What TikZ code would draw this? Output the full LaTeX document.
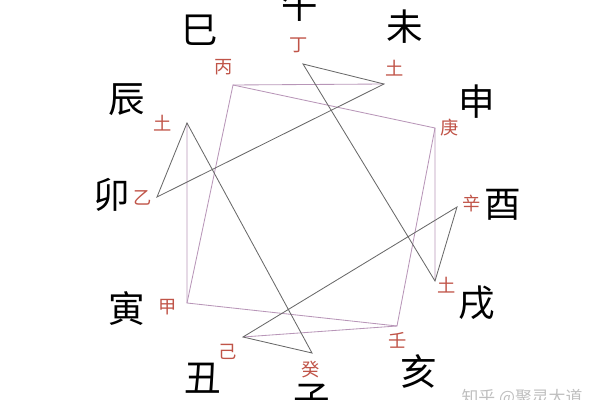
\documentclass[tikz,border=0pt]{standalone}
\usepackage{fontspec}
\newfontfamily\cjk{Noto Sans CJK SC}
\definecolor{stemred}{RGB}{192,84,72}
\definecolor{squarepink}{RGB}{184,150,184}
\definecolor{linegray}{RGB}{105,105,105}
\tikzset{
	branch/.style={font=\cjk\fontsize{26}{26}\selectfont,inner sep=0pt},
	stem/.style={font=\cjk\fontsize{13}{13}\selectfont,text=stemred,inner sep=0pt},
	square/.style={draw=squarepink,line width=.6pt},
	zigzag/.style={draw=linegray,line width=.6pt}
}
\begin{document}
\begin{tikzpicture}[x=.025cm,y=-.025cm]
	\useasboundingbox (0,0) rectangle (600,400);
	
	\foreach \n/\t/\p in {si/巳/{200,30},wu/午/{300,5},wei/未/{405,27},shen/申/{477,102},
		you/酉/{503,205},xu/戌/{477,303},hai/亥/{419,371},zi/子/{312,400},
		chou/丑/{203,378},yin/寅/{127,309},mao/卯/{112,195},chen/辰/{127,100}}
		\node[branch] (\n) at (\p) {\t};
	
	\foreach \n/\t/\p in {tbing/丙/{224,67},tding/丁/{299,45},tweitu/土/{395,68},tgeng/庚/{450,128},
		txin/辛/{472,203},txutu/土/{447,285},tren/壬/{398,340},tgui/癸/{311,370},
		tji/己/{228,352},tjia/甲/{168,307},tyi/乙/{143,198},tchentu/土/{163,123}}
		\node[stem] (\n) at (\p) {\t};
	
	\begin{scope}
		\coordinate (bing) at (233,85);
		\coordinate (ding) at (303,64);
		\coordinate (weitu) at (384,84);
		\coordinate (geng) at (435,128);
		\coordinate (xin) at (457,207);
		\coordinate (xutu) at (435,281);
		\coordinate (ren) at (397,326);
		\coordinate (gui) at (312,353);
		\coordinate (ji) at (243,337);
		\coordinate (jia) at (187,303);
		\coordinate (yi) at (157,197);
		\coordinate (chentu) at (187,123);
	\end{scope}
	
	\draw[square] (bing) -- (geng) -- (ren) -- (jia) -- cycle;
	\draw[square] (bing) -- (weitu) (geng) -- (xutu) (ren) -- (ji) (jia) -- (chentu);
	\draw[zigzag] (yi) -- (weitu) -- (ding) -- (xutu) -- (xin) -- (ji) -- (gui) -- (chentu) -- cycle;
	
	\node[font=\cjk\fontsize{12}{12}\selectfont,text=black!25,inner sep=0pt] (mark) at (522,398) {知乎 @聚灵大道};
\end{tikzpicture}
\end{document}
